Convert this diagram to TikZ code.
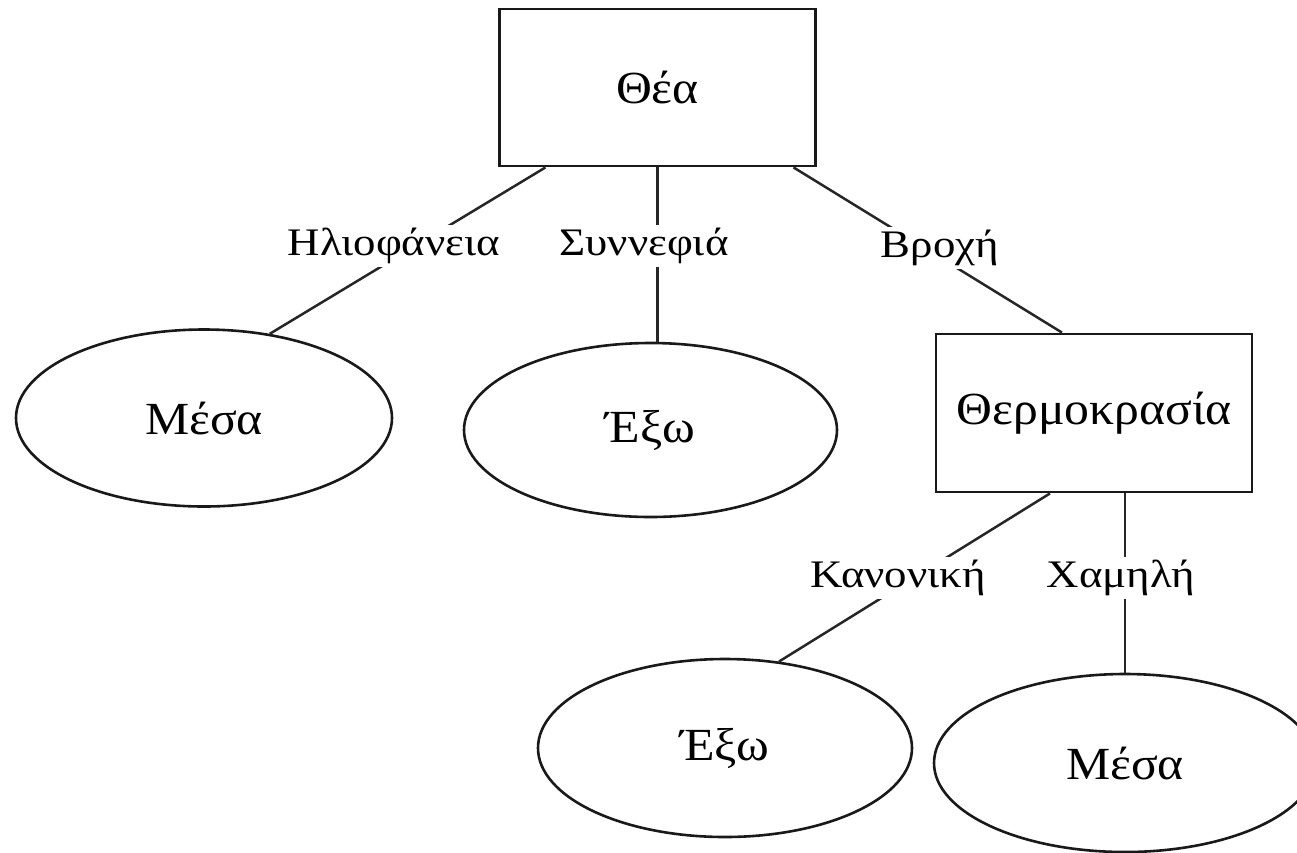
\documentclass[tikz,border=0pt]{standalone}
\usepackage{fontspec}
\setmainfont{Liberation Serif}
\newfontfamily\nodefont[FakeStretch=1.08]{Liberation Serif}
\newfontfamily\lblfont[FakeStretch=1.15]{Liberation Serif}
\usetikzlibrary{shapes.geometric}
\begin{document}
\begin{tikzpicture}[x=1pt,y=-1pt,
  box/.style={rectangle, draw=black!90, line width=2.8pt, inner sep=0pt,
    font=\nodefont\fontsize{46}{54}\selectfont},
  oval/.style={ellipse, draw=black!90, line width=2.6pt, inner sep=0pt,
    font=\nodefont\fontsize{46}{54}\selectfont},
  conn/.style={draw=black!85, line width=2.5pt},
  lbl/.style={fill=white, inner sep=3pt, font=\lblfont\fontsize{39}{46}\selectfont}]
\useasboundingbox (0,0) rectangle (1297,852);
\clip (0,0) rectangle (1297,852);

% decision nodes
\node[box, minimum width=316pt, minimum height=157pt] (thea) at (657.5,87.5) {Θέα};
\node[box, minimum width=316pt, minimum height=158pt] (thermo) at (1094,413) {Θερμοκρασία};

% leaves
\node[oval, minimum width=376pt, minimum height=177pt] (mesaA) at (204,418) {Μέσα};
\node[oval, minimum width=373pt, minimum height=174pt] (exoA) at (650.5,430) {Έξω};
\node[oval, minimum width=374pt, minimum height=178pt] (exoB) at (725,748) {Έξω};
\node[oval, minimum width=382pt, minimum height=178pt] (mesaB) at (1125,763) {Μέσα};

% branches
\draw[conn] ([xshift=-112pt]thea.south) -- (mesaA.52);
\draw[conn] (thea.south) -- (thea.south |- exoA.north);
\draw[conn] ([xshift=136pt]thea.south) -- ([xshift=-32pt]thermo.north);
\draw[conn] ([xshift=-44pt]thermo.south) -- (exoB.58);
\draw[conn] (mesaB.north |- thermo.south) -- (mesaB.north);

% branch labels
\node[lbl] (l1) at (394,246) {Ηλιοφάνεια};
\node[lbl] (l2) at (644,246) {Συννεφιά};
\node[lbl] (l3) at (940,248) {Βροχή};
\node[lbl] (l4) at (898,578) {Κανονική};
\node[lbl] (l5) at (1121,578) {Χαμηλή};
\end{tikzpicture}
\end{document}
